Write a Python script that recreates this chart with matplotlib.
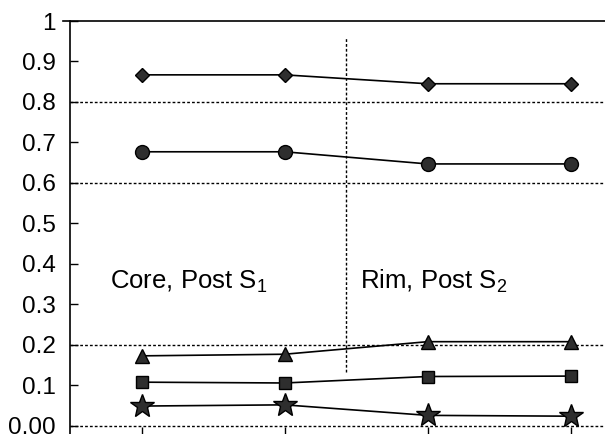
import matplotlib
matplotlib.use("Agg")
import matplotlib.pyplot as plt

plt.rcParams['font.family'] = ['Liberation Sans', 'DejaVu Sans']
plt.rcParams['mathtext.fontset'] = 'custom'
plt.rcParams['mathtext.rm'] = 'Liberation Sans'
plt.rcParams['mathtext.it'] = 'Liberation Sans'

x = [1, 2, 3, 4]
diamond = [0.867, 0.867, 0.845, 0.845]
circle = [0.677, 0.677, 0.647, 0.647]
triangle = [0.173, 0.177, 0.208, 0.208]
square = [0.108, 0.106, 0.122, 0.123]
star = [0.049, 0.052, 0.026, 0.024]
yticks = [0, 0.1, 0.2, 0.3, 0.4, 0.5, 0.6, 0.7, 0.8, 0.9, 1.0]
ytick_labels = ["0.00", "0.1", "0.2", "0.3", "0.4", "0.5", "0.6", "0.7", "0.8", "0.9", "1"]
grid_levels = [0.0, 0.2, 0.6, 0.8]
divider_x = 2.43
divider_span = (0.133, 0.958)
labels = ["Core, Post S$_1$", "Rim, Post S$_2$"]
label_pos = [(0.78, 0.338), (2.53, 0.338)]

fig = plt.figure(figsize=(6.05, 4.34), dpi=100)
ax = fig.add_axes([70/605, 0.0, 1 - 70/605, 1 - 21/434])

fc = '#2e2e2e'
common = dict(color='black', lw=1.2, markerfacecolor=fc, markeredgecolor='black', zorder=3)
ax.plot(x, diamond, marker='D', markersize=7, **common)
ax.plot(x, circle, marker='o', markersize=10, **common)
ax.plot(x, triangle, marker='^', markersize=10, **common)
ax.plot(x, square, marker='s', markersize=9, **common)
ax.plot(x, star, marker='*', markersize=18, **common)

for g in grid_levels:
    ax.axhline(g, color='black', lw=1, linestyle=(0, (2, 1.5)), zorder=1)
ax.plot([divider_x, divider_x], divider_span, color='black', lw=1, linestyle=(0, (2, 1.5)), zorder=1)
ax.axhline(1.0, xmin=-0.014, xmax=1, color='black', lw=1.2, clip_on=False, zorder=4)

for t, (tx, ty) in zip(labels, label_pos):
    ax.text(tx, ty, t, fontsize=18.5, ha='left', va='baseline')

ax.set_xlim(0.5, 4.24)
ax.set_ylim(-0.02, 1.0)
ax.set_yticks(yticks)
ax.set_yticklabels(ytick_labels, fontsize=17.5)
ax.set_xticks(x)
ax.set_xticklabels([])
ax.tick_params(axis='y', direction='in', length=6, width=1, pad=10)
ax.tick_params(axis='x', direction='in', length=5, width=1)
for s in ['right', 'top', 'bottom']:
    ax.spines[s].set_visible(False)
ax.spines['left'].set_linewidth(1.2)

fig.savefig('out.png', dpi=100)
